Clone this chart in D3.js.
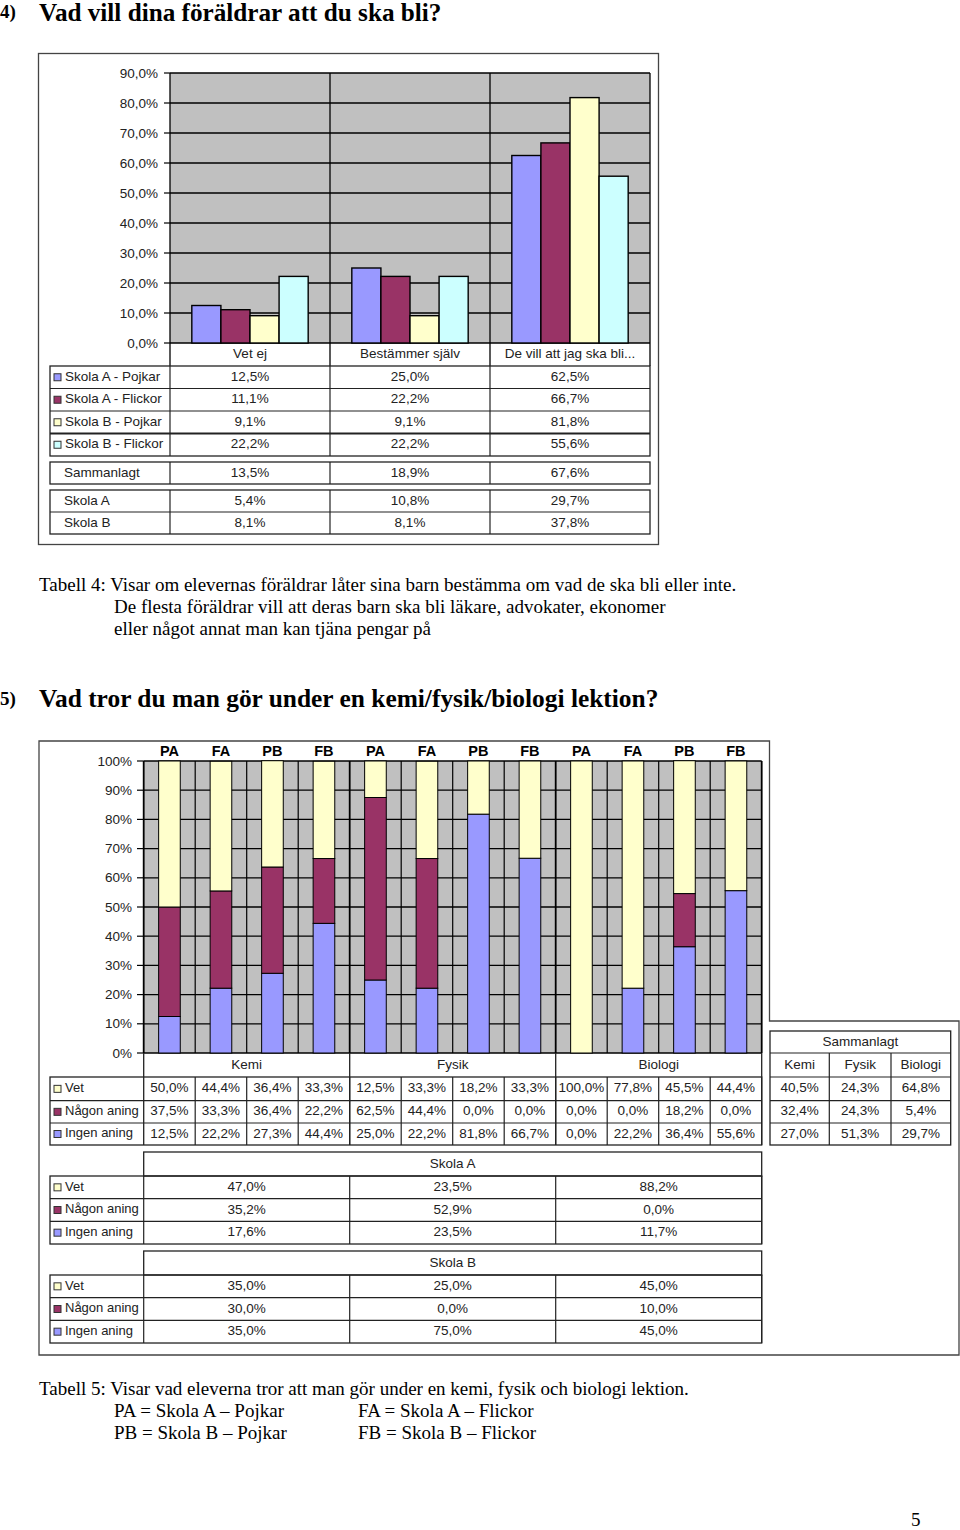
<!DOCTYPE html>
<html><head><meta charset="utf-8">
<script src="https://cdn.jsdelivr.net/npm/d3@7/dist/d3.min.js"></script>
<style>body{margin:0;background:#fff} svg{display:block}</style>
</head><body>
<script>
// ---------- Data: chart 1 ----------
const c1Categories = ["Vet ej", "Bestämmer själv", "De vill att jag ska bli..."];
const c1Series = ["Skola A - Pojkar", "Skola A - Flickor", "Skola B - Pojkar", "Skola B - Flickor"];
const c1SkolaAPojkar = [12.5, 25.0, 62.5];
const c1SkolaAFlickor = [11.1, 22.2, 66.7];
const c1SkolaBPojkar = [9.1, 9.1, 81.8];
const c1SkolaBFlickor = [22.2, 22.2, 55.6];
const c1SummaryLabels = ["Sammanlagt", "Skola A", "Skola B"];
const c1Sammanlagt = [13.5, 18.9, 67.6];
const c1SkolaA = [5.4, 10.8, 29.7];
const c1SkolaB = [8.1, 8.1, 37.8];
const c1Ticks = [0, 10, 20, 30, 40, 50, 60, 70, 80, 90];

// ---------- Data: chart 2 ----------
const c2Subjects = ["Kemi", "Fysik", "Biologi"];
const c2Groups = ["PA", "FA", "PB", "FB"];
const c2Answers = ["Vet", "Någon aning", "Ingen aning"];
const c2Vet = [50.0, 44.4, 36.4, 33.3, 12.5, 33.3, 18.2, 33.3, 100.0, 77.8, 45.5, 44.4];
const c2Nagon = [37.5, 33.3, 36.4, 22.2, 62.5, 44.4, 0.0, 0.0, 0.0, 0.0, 18.2, 0.0];
const c2Ingen = [12.5, 22.2, 27.3, 44.4, 25.0, 22.2, 81.8, 66.7, 0.0, 22.2, 36.4, 55.6];
const c2Ticks = [0, 10, 20, 30, 40, 50, 60, 70, 80, 90, 100];
const c2SkolaAVet = [47.0, 23.5, 88.2];
const c2SkolaANagon = [35.2, 52.9, 0.0];
const c2SkolaAIngen = [17.6, 23.5, 11.7];
const c2SkolaBVet = [35.0, 25.0, 45.0];
const c2SkolaBNagon = [30.0, 0.0, 10.0];
const c2SkolaBIngen = [35.0, 75.0, 45.0];
const c2SumVet = [40.5, 24.3, 64.8];
const c2SumNagon = [32.4, 24.3, 5.4];
const c2SumIngen = [27.0, 51.3, 29.7];

// ---------- Styles ----------
const BLUE = "#9999FF", MAROON = "#993366", YELLOW = "#FFFFCC", CYAN = "#CCFFFF", PLOT = "#C0C0C0";
const sans = "'Liberation Sans', Arial, sans-serif";
const serif = "'Liberation Serif', 'Times New Roman', serif";
const FS = 13.5;
const loc = d3.formatLocale({decimal: ",", thousands: " ", grouping: [3], currency: ["", " kr"]});
const pct1 = v => loc.format(".1f")(v) + "%";

const svg = d3.select("body").append("svg").attr("width", 960).attr("height", 1530);
svg.append("rect").attr("width", 960).attr("height", 1530).attr("fill", "#fff");

function txt(g, x, y, s, o = {}) {
  return g.append("text").attr("x", x).attr("y", y).text(s)
    .attr("font-family", o.family || sans).attr("font-size", o.size || FS)
    .attr("font-weight", o.weight || "normal").attr("fill", o.fill || "#111")
    .attr("text-anchor", o.anchor || "start").attr("dominant-baseline", o.baseline || "middle");
}
function line(g, x1, y1, x2, y2, w = 1.2, c = "#222") {
  g.append("line").attr("x1", x1).attr("y1", y1).attr("x2", x2).attr("y2", y2)
    .attr("stroke", c).attr("stroke-width", w);
}
function box(g, x1, y1, x2, y2, w = 1.3, c = "#222") {
  g.append("rect").attr("x", x1).attr("y", y1).attr("width", x2 - x1).attr("height", y2 - y1)
    .attr("fill", "none").attr("stroke", c).attr("stroke-width", w);
}
function marker(g, x, y, color) {
  g.append("rect").attr("x", x).attr("y", y - 3.5).attr("width", 7).attr("height", 7)
    .attr("fill", color).attr("stroke", "#333").attr("stroke-width", 1);
}

// ---------- Page text ----------
const P = {family: serif, size: 19, baseline: "auto", fill: "#000"};
txt(svg, 0, 18, "4)", {family: serif, size: 19, weight: "bold", baseline: "auto", fill: "#000"});
txt(svg, 39, 21, "Vad vill dina föräldrar att du ska bli?", {family: serif, size: 25.2, weight: "bold", baseline: "auto", fill: "#000"});
txt(svg, 39, 591, "Tabell 4: Visar om elevernas föräldrar låter sina barn bestämma om vad de ska bli eller inte.", P);
txt(svg, 114, 613, "De flesta föräldrar vill att deras barn ska bli läkare, advokater, ekonomer", P);
txt(svg, 114, 635, "eller något annat man kan tjäna pengar på", P);
txt(svg, 0, 705, "5)", {family: serif, size: 19, weight: "bold", baseline: "auto", fill: "#000"});
txt(svg, 39, 707, "Vad tror du man gör under en kemi/fysik/biologi lektion?", {family: serif, size: 25.4, weight: "bold", baseline: "auto", fill: "#000"});
txt(svg, 39, 1395, "Tabell 5: Visar vad eleverna tror att man gör under en kemi, fysik och biologi lektion.", P);
txt(svg, 114, 1417, "PA = Skola A – Pojkar", P);
txt(svg, 358, 1417, "FA = Skola A – Flickor", P);
txt(svg, 114, 1439, "PB = Skola B – Pojkar", P);
txt(svg, 358, 1439, "FB = Skola B – Flickor", P);
txt(svg, 911, 1526, "5", {family: serif, size: 19, baseline: "auto", fill: "#000"});

// =================== CHART 1 ===================
const g1 = svg.append("g");
box(g1, 38.5, 53.5, 658.5, 544.5, 1.3, "#444");

const c1Values = [c1SkolaAPojkar, c1SkolaAFlickor, c1SkolaBPojkar, c1SkolaBFlickor];
const c1Colors = [BLUE, MAROON, YELLOW, CYAN];
const x0 = d3.scaleBand().domain(c1Categories).range([170, 650]);
const x1 = d3.scaleBand().domain(c1Series).range([0, x0.bandwidth()]).paddingInner(0).paddingOuter(0.75);
const y1 = d3.scaleLinear().domain([0, 90]).range([343, 73]);

g1.append("rect").attr("x", 170).attr("y", y1(90)).attr("width", 480).attr("height", y1(0) - y1(90)).attr("fill", PLOT);
c1Ticks.forEach(t => {
  line(g1, 170, y1(t), 650, y1(t), 1.3, "#000");
  line(g1, 164, y1(t), 170, y1(t), 1.2, "#000");
  txt(g1, 158, y1(t) + 1, loc.format(".1%")(t / 100), {anchor: "end", fill: "#222"});
});
c1Categories.forEach(c => line(g1, x0(c), y1(90), x0(c), 366, 1.3, "#000"));
line(g1, 650, y1(90), 650, 366, 1.3, "#000");

c1Categories.forEach((c, ci) => {
  c1Series.forEach((s, si) => {
    const v = c1Values[si][ci];
    g1.append("rect").attr("x", x0(c) + x1(s)).attr("y", y1(v))
      .attr("width", x1.bandwidth()).attr("height", y1(0) - y1(v))
      .attr("fill", c1Colors[si]).attr("stroke", "#000").attr("stroke-width", 1.4);
  });
  txt(g1, x0(c) + x0.bandwidth() / 2, 354.5, c, {anchor: "middle", fill: "#222"});
});

// legend table
const c1RowH = 22.5;
box(g1, 50, 366, 650, 366 + 4 * c1RowH);
for (let i = 1; i < 4; i++) line(g1, 50, 366 + i * c1RowH, 650, 366 + i * c1RowH, i === 3 ? 1.8 : 1.2);
c1Categories.forEach(c => line(g1, x0(c), 366, x0(c), 456));
c1Series.forEach((s, si) => {
  const cy = 366 + c1RowH * (si + 0.5);
  marker(g1, 54, cy, c1Colors[si]);
  txt(g1, 65, cy, s, {fill: "#222"});
  c1Categories.forEach((c, ci) => txt(g1, x0(c) + x0.bandwidth() / 2, cy, pct1(c1Values[si][ci]), {anchor: "middle", fill: "#222"}));
});
// summary tables
box(g1, 50, 462, 650, 484);
c1Categories.forEach(c => line(g1, x0(c), 462, x0(c), 484));
txt(g1, 64, 473, c1SummaryLabels[0], {fill: "#222"});
c1Categories.forEach((c, ci) => txt(g1, x0(c) + x0.bandwidth() / 2, 473, pct1(c1Sammanlagt[ci]), {anchor: "middle", fill: "#222"}));
box(g1, 50, 490, 650, 534);
line(g1, 50, 512, 650, 512);
c1Categories.forEach(c => line(g1, x0(c), 490, x0(c), 534));
[[c1SummaryLabels[1], c1SkolaA], [c1SummaryLabels[2], c1SkolaB]].forEach(([lab, vals], i) => {
  const cy = 501 + i * 22;
  txt(g1, 64, cy, lab, {fill: "#222"});
  c1Categories.forEach((c, ci) => txt(g1, x0(c) + x0.bandwidth() / 2, cy, pct1(vals[ci]), {anchor: "middle", fill: "#222"}));
});

// =================== CHART 2 ===================
const g2 = svg.append("g");
g2.append("path").attr("d", "M39,741 L769.5,741 L769.5,1021 L959,1021 L959,1355 L39,1355 Z")
  .attr("fill", "none").attr("stroke", "#444").attr("stroke-width", 1.3);

const c2Keys = [];
c2Subjects.forEach(s => c2Groups.forEach(gr => c2Keys.push(s + "|" + gr)));
const c2Rows = c2Keys.map((k, i) => ({key: k, "Ingen aning": c2Ingen[i], "Någon aning": c2Nagon[i], "Vet": c2Vet[i]}));
const xL = 143.7, xR = 761.7;
const x2 = d3.scaleBand().domain(c2Keys).range([xL, xR]).paddingInner(0.58).paddingOuter(0.29);
const step = x2.step();
const y2 = d3.scaleLinear().domain([0, 100]).range([1053, 761]);
const xs = d3.scaleBand().domain(c2Subjects).range([xL, xR]);

g2.append("rect").attr("x", xL).attr("y", y2(100)).attr("width", xR - xL).attr("height", y2(0) - y2(100)).attr("fill", PLOT);
c2Ticks.forEach(t => {
  line(g2, xL, y2(t), xR, y2(t), 1.3, "#000");
  line(g2, 137, y2(t), xL, y2(t), 1.2, "#000");
  txt(g2, 132, y2(t) + 1, t + "%", {anchor: "end", fill: "#222"});
});
for (let i = 0; i <= c2Keys.length; i++) {
  const xx = xL + i * step;
  const major = i % 4 === 0;
  line(g2, xx, y2(100), xx, y2(0), major ? 1.8 : 1.2, "#000");
}

const stack = d3.stack().keys(["Ingen aning", "Någon aning", "Vet"]);
const c2Colors = {"Ingen aning": BLUE, "Någon aning": MAROON, "Vet": YELLOW};
stack(c2Rows).forEach(layer => {
  g2.append("g").selectAll("rect").data(layer).join("rect")
    .attr("x", d => x2(d.data.key)).attr("width", x2.bandwidth())
    .attr("y", d => y2(d[1])).attr("height", d => y2(d[0]) - y2(d[1]))
    .attr("fill", c2Colors[layer.key]).attr("stroke", "#000").attr("stroke-width", 1)
    .attr("display", d => d[1] - d[0] > 0 ? null : "none");
});
c2Keys.forEach(k => txt(g2, x2(k) + x2.bandwidth() / 2, 752, k.split("|")[1], {anchor: "middle", weight: "bold", size: 14.5, fill: "#000"}));

// data table below chart 2
line(g2, xL, y2(0), xL, 1145, 1.3);
c2Subjects.forEach(s => { line(g2, xs(s) + xs.bandwidth(), y2(0), xs(s) + xs.bandwidth(), 1145, 1.3); txt(g2, xs(s) + xs.bandwidth() / 2, 1065, s, {anchor: "middle", fill: "#222"}); });
const tRows = [1077, 1100.7, 1123, 1145];
box(g2, 50, tRows[0], xR, tRows[3]);
line(g2, 50, tRows[1], xR, tRows[1]); line(g2, 50, tRows[2], xR, tRows[2]);
for (let i = 1; i < c2Keys.length; i++) line(g2, xL + i * step, tRows[0], xL + i * step, tRows[3], 1.2);
const c2Series = [c2Vet, c2Nagon, c2Ingen];
const c2AnsColors = [YELLOW, MAROON, BLUE];
c2Answers.forEach((a, ai) => {
  const cy = (tRows[ai] + tRows[ai + 1]) / 2;
  marker(g2, 54, cy, c2AnsColors[ai]);
  txt(g2, 65, cy, a, {fill: "#222", size: 13});
  c2Keys.forEach((k, ki) => txt(g2, x2(k) + x2.bandwidth() / 2, cy, pct1(c2Series[ai][ki]), {anchor: "middle", fill: "#222"}));
});

// Skola A / Skola B tables
function schoolTable(top, title, vals) {
  box(g2, xL, top, xR, top + 24);
  txt(g2, (xL + xR) / 2, top + 12, title, {anchor: "middle", fill: "#222"});
  const r0 = top + 24, rh = 22.67;
  box(g2, 50, r0, xR, r0 + 3 * rh);
  line(g2, 50, r0 + rh, xR, r0 + rh); line(g2, 50, r0 + 2 * rh, xR, r0 + 2 * rh);
  line(g2, xL, r0, xL, r0 + 3 * rh);
  c2Subjects.forEach(s => line(g2, xs(s) + xs.bandwidth(), r0, xs(s) + xs.bandwidth(), r0 + 3 * rh));
  c2Answers.forEach((a, ai) => {
    const cy = r0 + rh * (ai + 0.5);
    marker(g2, 54, cy, c2AnsColors[ai]);
    txt(g2, 65, cy, a, {fill: "#222", size: 13});
    c2Subjects.forEach((s, si) => txt(g2, xs(s) + xs.bandwidth() / 2, cy, pct1(vals[ai][si]), {anchor: "middle", fill: "#222"}));
  });
}
schoolTable(1152, "Skola A", [c2SkolaAVet, c2SkolaANagon, c2SkolaAIngen]);
schoolTable(1251, "Skola B", [c2SkolaBVet, c2SkolaBNagon, c2SkolaBIngen]);

// Sammanlagt table
const sx = [770, 829.3, 891, 950.7];
const sy = [1031, 1053, 1077, 1100.7, 1123, 1145];
box(g2, sx[0], sy[0], sx[3], sy[5]);
txt(g2, (sx[0] + sx[3]) / 2, (sy[0] + sy[1]) / 2, "Sammanlagt", {anchor: "middle", fill: "#222"});
for (let i = 1; i < 5; i++) line(g2, sx[0], sy[i], sx[3], sy[i]);
line(g2, sx[1], sy[1], sx[1], sy[5]); line(g2, sx[2], sy[1], sx[2], sy[5]);
const sumVals = [c2SumVet, c2SumNagon, c2SumIngen];
c2Subjects.forEach((s, si) => {
  const cx = (sx[si] + sx[si + 1]) / 2;
  txt(g2, cx, (sy[1] + sy[2]) / 2, s, {anchor: "middle", fill: "#222"});
  sumVals.forEach((vals, ai) => txt(g2, cx, (sy[ai + 2] + sy[ai + 3]) / 2, pct1(vals[si]), {anchor: "middle", fill: "#222"}));
});
</script>
</body></html>
